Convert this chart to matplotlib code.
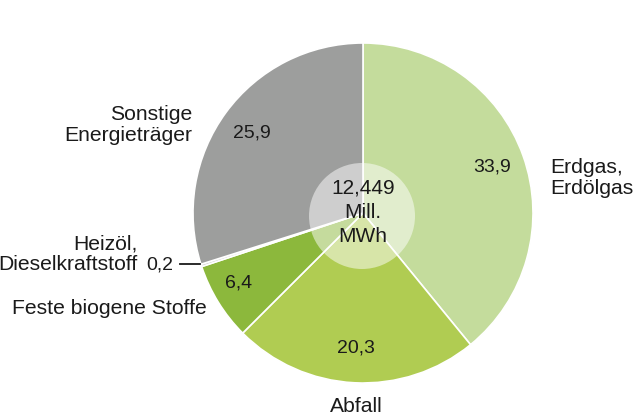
import matplotlib
matplotlib.use("Agg")
import matplotlib.pyplot as plt

# shares in percent, clockwise from 12 o'clock
categories = ["Erdgas,\nErdölgas", "Abfall", "Feste biogene Stoffe",
              "Heizöl,\nDieselkraftstoff", "Sonstige\nEnergieträger"]
values = [33.9, 20.3, 6.4, 0.2, 25.9]
value_labels = ["33,9", "20,3", "6,4", "0,2", "25,9"]
total_label = "12,449\nMill.\nMWh"

COLORS = ["#c4dc9c", "#b0cc52", "#8cb83c", "#cfcfcf", "#9d9e9d"]
TEXT = "#1a1a1a"

plt.rcParams["font.family"] = ["Liberation Sans", "DejaVu Sans"]

W, H = 642, 416
CX, CY, R = 363, 213, 170


def px(x, y):
    # pixel position in the reference -> pie data coordinates (radius 1)
    return (x - CX) / R, (CY - y) / R


fig = plt.figure(figsize=(W / 100, H / 100), dpi=100)
ax = fig.add_axes([(CX - R) / W, (H - CY - R) / H, 2 * R / W, 2 * R / H])
ax.pie(values, colors=COLORS, startangle=90, counterclock=False, radius=1,
       wedgeprops=dict(edgecolor="white", linewidth=1.2))
ax.set_xlim(-1, 1)
ax.set_ylim(-1, 1)
ax.set_aspect("equal")
ax.axis("off")

# translucent disc with the total
ax.add_patch(plt.Circle(px(362, 216), 53 / R, color="white", alpha=0.5, lw=0, zorder=5))
ax.text(*px(363, 212), total_label, ha="center", va="center", fontsize=15,
        color=TEXT, linespacing=1.35, zorder=6)

# values inside the slices
val_pos = [(492, 167), (356, 348), (239, 283), None, (252, 133)]
for lbl, pos in zip(value_labels, val_pos):
    if pos is None:
        continue
    ax.text(*px(*pos), lbl, ha="center", va="center", fontsize=14, color=TEXT)

# category labels outside
lbl_kw = dict(fontsize=15.2, color=TEXT, va="center", linespacing=1.1, clip_on=False)
ax.text(*px(550, 178), categories[0], ha="left", **lbl_kw)
ax.text(*px(356, 406), categories[1], ha="center", **lbl_kw)
ax.text(*px(207, 308), categories[2], ha="right", **lbl_kw)
ax.text(*px(138, 254), categories[3], ha="right", **lbl_kw)
ax.text(*px(146, 265), value_labels[3], ha="left", va="center", fontsize=14,
        color=TEXT, clip_on=False)
ax.text(*px(192, 125), categories[4], ha="right", **lbl_kw)

# leader line for the thin slice
x0, y0 = px(180, 264)
x1, y1 = px(200, 264)
ax.plot([x0, x1], [y0, y1], color=TEXT, lw=1.3, clip_on=False)

fig.savefig("out.png", dpi=100)
